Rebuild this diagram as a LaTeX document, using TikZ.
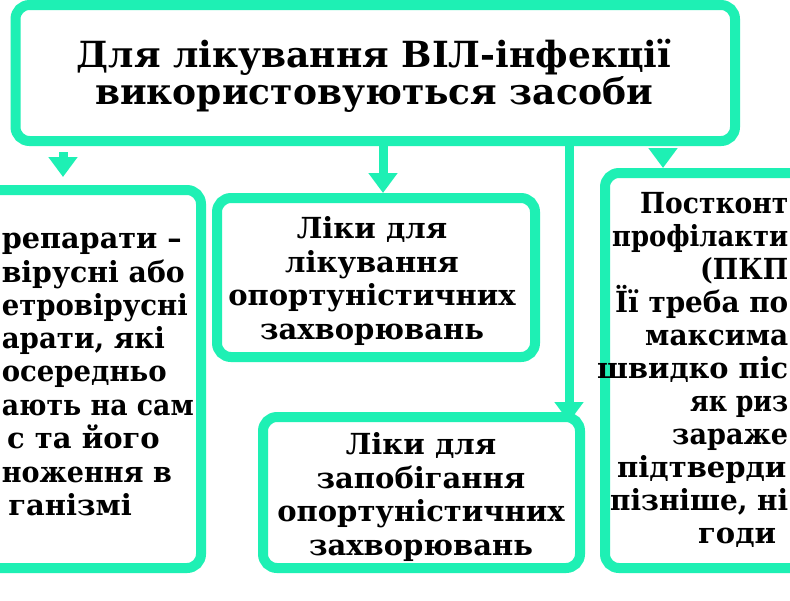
\documentclass[tikz,border=0pt]{standalone}
\usepackage{fontspec}
\usepackage{graphicx}
\setmainfont{DejaVu Serif}
\usetikzlibrary{arrows.meta}
\definecolor{mint}{RGB}{30,240,180}
\newcommand\fitbox[2]{\sbox0{#2}\ifdim\wd0>#1\relax\resizebox{#1}{\height}{#2}\else\usebox0\fi}
\tikzset{
  box/.style={draw=mint, line width=10pt, rounded corners=14pt, fill=white, inner sep=0pt},
  conn/.style={draw=mint, line width=9pt},
  arr/.style={conn, -{Triangle[width=28pt,length=20pt]}},
  bodytxt/.style={font=\fontsize{29}{33.6}\selectfont\bfseries, align=center, text=black},
  frag/.style={font=\fontsize{29}{33.6}\selectfont\bfseries, text=black, inner sep=0pt},
  titletxt/.style={font=\fontsize{36}{34}\selectfont\bfseries, align=center, text=black}
}
\begin{document}
\begin{tikzpicture}[x=1pt,y=-1pt]
\useasboundingbox (0,0) rectangle (790,600);
\clip (0,0) rectangle (790,600);
\fill[white] (0,0) rectangle (790,600);
% boxes
\node[box, minimum width=719.5pt, minimum height=136pt] (title) at (375.25,73) {};
\node[titletxt] (ttext) at (374,76) {Для лікування ВІЛ-інфекції\\використовуються засоби};
\node[box, minimum width=351pt, minimum height=378pt] (lbox) at (25.5,379) {};
\node[box, minimum width=318pt, minimum height=159pt] (box2) at (376,277.5) {};
\node[bodytxt] (t2) at (372,281) {Ліки для\\лікування\\опортуністичних\\захворювань};
\node[box, minimum width=317pt, minimum height=151pt] (box3) at (421.5,492.5) {};
\node[bodytxt] (t3) at (421,497) {Ліки для\\запобігання\\опортуністичних\\захворювань};
\node[box, minimum width=355pt, minimum height=395pt] (rbox) at (782.5,370.5) {};
% coordinates for connectors
\coordinate (la) at (63,152);
\coordinate (mx) at (383,0);
\coordinate (rx) at (569,0);
\coordinate (ra) at (663,151);
% connectors
\draw[arr, shorten >=8pt] (la) -- (la |- lbox.north);
\draw[arr] (title.south -| mx) -- (mx |- box2.north);
\draw[arr, shorten >=-10pt] (title.south -| rx) -- (rx |- box3.north);
\draw[arr] (ra) -- (ra |- rbox.north);
% left box text fragments
\node[frag, anchor=base east] (l1) at (182,248) {\fitbox{180pt}{репарати –}};
\node[frag, anchor=base east] (l2) at (185,282) {\fitbox{183pt}{вірусні або}};
\node[frag, anchor=base east] (l3) at (188,315) {\fitbox{186pt}{етровірусні}};
\node[frag, anchor=base east] (l4) at (165,348) {\fitbox{163pt}{арати, які}};
\node[frag, anchor=base east] (l5) at (167,381) {\fitbox{165pt}{осередньо}};
\node[frag, anchor=base east] (l6) at (194,415) {\fitbox{192pt}{ають на сам}};
\node[frag, anchor=base east] (l7) at (160,448) {\fitbox{158pt}{с та його}};
\node[frag, anchor=base east] (l8) at (172,482) {\fitbox{170pt}{ноження в}};
\node[frag, anchor=base east] (l9) at (132,515) {\fitbox{130pt}{ганізмі}};
% right box text fragments
\node[frag, anchor=base west] (r1) at (640,213) {\fitbox{148pt}{Постконт}};
\node[frag, anchor=base west] (r2) at (612,246) {\fitbox{176pt}{профілакти}};
\node[frag, anchor=base west] (r3) at (700,279) {\fitbox{88pt}{(ПКП}};
\node[frag, anchor=base west] (r4) at (615,312) {\fitbox{173pt}{Її треба по}};
\node[frag, anchor=base west] (r5) at (645,345) {\fitbox{143pt}{максима}};
\node[frag, anchor=base west] (r6) at (597,378) {\fitbox{191pt}{швидко піс}};
\node[frag, anchor=base west] (r7) at (690,411) {\fitbox{98pt}{як риз}};
\node[frag, anchor=base west] (r8) at (672,444) {\fitbox{116pt}{зараже}};
\node[frag, anchor=base west] (r9) at (617,477) {\fitbox{171pt}{підтверди}};
\node[frag, anchor=base west] (r10) at (610,510) {\fitbox{178pt}{пізніше, ні}};
\node[frag, anchor=base west] (r11) at (698,543) {\fitbox{90pt}{годи}};
\end{tikzpicture}
\end{document}
